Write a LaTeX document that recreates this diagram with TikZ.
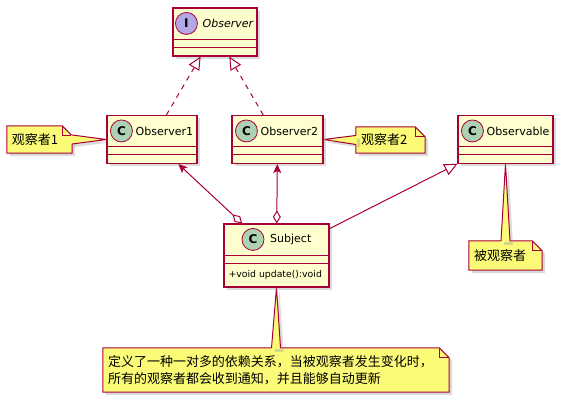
\documentclass[tikz,border=0pt]{standalone}
\usepackage{fontspec}
\setmainfont{DejaVu Sans}
\newfontfamily\cjk{Noto Sans CJK SC}
\usetikzlibrary{calc,arrows.meta,shadows,backgrounds}

\definecolor{umlred}{HTML}{A80036}
\definecolor{classbg}{HTML}{FEFECE}
\definecolor{notebg}{HTML}{FBFB77}
\definecolor{cspot}{HTML}{ADD1B2}
\definecolor{ispot}{HTML}{B4A7E5}

\tikzset{
  umlline/.style={draw=umlred, line width=1pt},
  umlshadow/.style={drop shadow={shadow xshift=3pt, shadow yshift=-3pt, fill=black!40, opacity=.35}},
  classbox/.style={rectangle, umlline, line width=1.1pt, fill=classbg, inner sep=0pt,
    minimum height=48pt, umlshadow},
  spot/.style={circle, umlline, line width=.8pt, minimum size=22pt, inner sep=0pt,
    font=\fontsize{12}{12}\selectfont\bfseries},
  cname/.style={anchor=west, inner sep=0pt, font=\fontsize{11}{13}\selectfont},
  notebox/.style={inner xsep=5pt, inner ysep=0pt, align=left, font=\cjk\fontsize{13}{17}\selectfont},
  noteshape/.style={umlline, fill=notebg, umlshadow},
  realize/.style={umlline, dash pattern=on 5pt off 5pt, -{Triangle[open, length=13pt, width=12pt]}},
  assoc/.style={umlline, {Diamond[open, length=13pt, width=8pt]}-{Stealth[length=9pt, width=8pt, inset=2pt]}},
  extends/.style={umlline, -{Triangle[open, length=13pt, width=12pt]}},
}

% header lines of a class box
\newcommand{\compartments}[1]{%
  \draw[umlline] ($(#1.north west)+(0,32)$) -- ($(#1.north east)+(0,32)$);
  \draw[umlline] ($(#1.north west)+(0,40)$) -- ($(#1.north east)+(0,40)$);}
% note outline with folded corner
\newcommand{\notefold}[1]{%
  \filldraw[noteshape] (#1.north west) -- ($(#1.north east)+(-10,0)$) -- ($(#1.north east)+(0,10)$)
    -- (#1.south east) -- (#1.south west) -- cycle;
  \draw[umlline] ($(#1.north east)+(-10,0)$) -- ($(#1.north east)+(-10,10)$) -- ($(#1.north east)+(0,10)$);}

\begin{document}
\begin{tikzpicture}[x=1pt, y=-1pt]
  \useasboundingbox (0,0) rectangle (563,403);

  % classes
  \node[classbox, minimum width=84pt] (observer) at (215,32) {};
  \compartments{observer}
  \node[spot, fill=ispot] (observerspot) at ($(observer.north west)+(14,16)$) {I};
  \node[cname, font=\fontsize{11}{13}\selectfont\itshape] (observername) at ($(observer.north west)+(30,16)$) {Observer};

  \node[classbox, minimum width=90pt] (obs1) at (152,139.5) {};
  \compartments{obs1}
  \node[spot, fill=cspot] (obs1spot) at ($(obs1.north west)+(15,16)$) {C};
  \node[cname] (obs1name) at ($(obs1.north west)+(29,16)$) {Observer1};

  \node[classbox, minimum width=91pt] (obs2) at (277.5,139.5) {};
  \compartments{obs2}
  \node[spot, fill=cspot] (obs2spot) at ($(obs2.north west)+(15,16)$) {C};
  \node[cname] (obs2name) at ($(obs2.north west)+(29,16)$) {Observer2};

  \node[classbox, minimum width=95pt] (observable) at (505.5,139.5) {};
  \compartments{observable}
  \node[spot, fill=cspot] (observablespot) at ($(observable.north west)+(15,16)$) {C};
  \node[cname] (observablename) at ($(observable.north west)+(29,16)$) {Observable};

  \node[classbox, minimum width=105pt, minimum height=63pt] (subject) at (276.5,255.5) {};
  \compartments{subject}
  \node[spot, fill=cspot] (subjectspot) at ($(subject.north)+(-23.5,16)$) {C};
  \node[cname] (subjectname) at ($(subject.north)+(-6.5,16)$) {Subject};
  \node[anchor=west, inner sep=0pt, font=\fontsize{9.3}{11}\selectfont] (subjectop) at ($(subject.north west)+(5,51.5)$) {+void update():void};

  % notes
  \node[notebox, text width=55pt, minimum height=27pt] (n1) at (39.5,139.5) {观察者1};
  \node[notebox, text width=59pt, minimum height=26pt] (n2) at (390.5,140) {观察者2};
  \node[notebox, text width=63pt, minimum height=29pt] (n3) at (505.5,255.5) {被观察者};
  \node[notebox, text width=336pt, minimum height=44pt] (n4) at (276,370)
    {定义了一种一对多的依赖关系，当被观察者发生变化时，\\所有的观察者都会收到通知，并且能够自动更新};

  \begin{scope}[on background layer]
    \notefold{n1}
    \notefold{n2}
    \notefold{n3}
    \notefold{n4}
    \filldraw[noteshape, draw=none] ($(n1.east)+(-1,-4.5)$) -- (obs1.west) -- ($(n1.east)+(-1,4.5)$) -- cycle;
    \draw[umlline] ($(n1.east)+(0,-4.5)$) -- (obs1.west) -- ($(n1.east)+(0,4.5)$);
    \filldraw[noteshape, draw=none] ($(n2.west)+(1,-4.5)$) -- (obs2.east) -- ($(n2.west)+(1,4.5)$) -- cycle;
    \draw[umlline] ($(n2.west)+(0,-4.5)$) -- (obs2.east) -- ($(n2.west)+(0,4.5)$);
    \filldraw[noteshape, draw=none] ($(n3.north)+(-4.5,1)$) -- (observable.south) -- ($(n3.north)+(4.5,1)$) -- cycle;
    \draw[umlline] ($(n3.north)+(-4.5,0)$) -- (observable.south) -- ($(n3.north)+(4.5,0)$);
    \filldraw[noteshape, draw=none] ($(n4.north)+(-4.5,1)$) -- (subject.south) -- ($(n4.north)+(4.5,1)$) -- cycle;
    \draw[umlline] ($(n4.north)+(-4.5,0)$) -- (subject.south) -- ($(n4.north)+(4.5,0)$);
  \end{scope}

  % relations
  \draw[realize] (obs1) -- (observer);
  \draw[realize] (obs2) -- (observer);
  \draw[assoc] (subject) -- (obs1);
  \draw[assoc] (subject) -- (obs2);
  \draw[extends] (subject) -- (observable);
\end{tikzpicture}
\end{document}
